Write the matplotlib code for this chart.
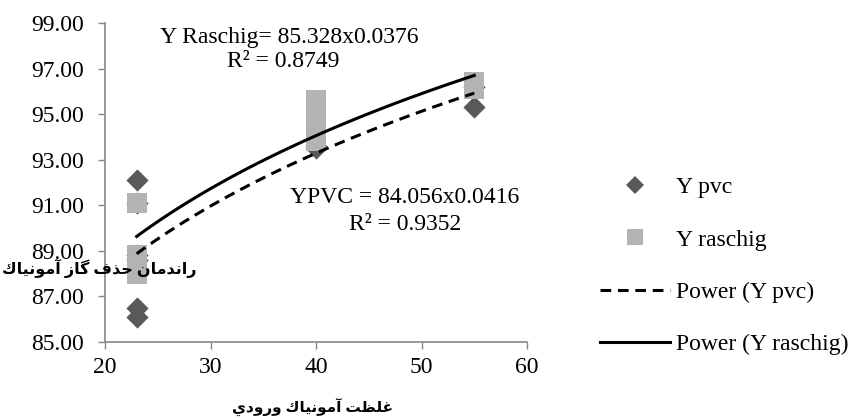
import numpy as np
import matplotlib
matplotlib.use("Agg")
import matplotlib.pyplot as plt
from matplotlib.lines import Line2D

plt.rcParams['font.family'] = ['Liberation Serif', 'DejaVu Sans']

# data
x_pvc = [23, 23, 23, 23, 23, 23, 40, 40, 55, 55]
y_pvc = [92.1, 91.1, 88.8, 88.6, 86.5, 86.1, 93.5, 93.6, 95.3, 96.2]
x_ras = [23, 23, 23, 23, 23, 40, 40, 40, 40, 40, 55, 55, 55]
y_ras = [91.1, 91.1, 88.8, 88.4, 88.0, 95.6, 95.0, 94.4, 93.8, 93.8,
         96.4, 96.1, 96.1]

eq_ras = ["Y Raschig= 85.328x0.0376", "R² = 0.8749"]
eq_pvc = ["YPVC = 84.056x0.0416", "R² = 0.9352"]
x_title = "غلظت آمونياك ورودي"
y_title = "راندمان حذف گاز آمونياك"

# presentation forms: isolated, final, initial, medial
FORMS = {
    'ا': ('\uFE8D', '\uFE8E', None, None),
    'آ': ('\uFE81', '\uFE82', None, None),
    'ت': ('\uFE95', '\uFE96', '\uFE97', '\uFE98'),
    'ح': ('\uFEA1', '\uFEA2', '\uFEA3', '\uFEA4'),
    'د': ('\uFEA9', '\uFEAA', None, None),
    'ذ': ('\uFEAB', '\uFEAC', None, None),
    'ر': ('\uFEAD', '\uFEAE', None, None),
    'ز': ('\uFEAF', '\uFEB0', None, None),
    'ظ': ('\uFEC5', '\uFEC6', '\uFEC7', '\uFEC8'),
    'غ': ('\uFECD', '\uFECE', '\uFECF', '\uFED0'),
    'ف': ('\uFED1', '\uFED2', '\uFED3', '\uFED4'),
    'ك': ('\uFED9', '\uFEDA', '\uFEDB', '\uFEDC'),
    'ل': ('\uFEDD', '\uFEDE', '\uFEDF', '\uFEE0'),
    'م': ('\uFEE1', '\uFEE2', '\uFEE3', '\uFEE4'),
    'ن': ('\uFEE5', '\uFEE6', '\uFEE7', '\uFEE8'),
    'و': ('\uFEED', '\uFEEE', None, None),
    'ي': ('\uFEF1', '\uFEF2', '\uFEF3', '\uFEF4'),
    'گ': ('\uFB92', '\uFB93', '\uFB94', '\uFB95'),
}


def shape(text):
    # join arabic letters and reverse for left-to-right drawing
    out = []
    for word in text.split(' '):
        chars = []
        for i, c in enumerate(word):
            prev = word[i - 1] if i > 0 else None
            nxt = word[i + 1] if i < len(word) - 1 else None
            join_prev = prev is not None and FORMS[prev][2] is not None
            join_next = nxt is not None and FORMS[c][2] is not None
            iso, fin, ini, med = FORMS[c]
            if join_prev and join_next:
                chars.append(med)
            elif join_prev:
                chars.append(fin)
            elif join_next:
                chars.append(ini)
            else:
                chars.append(iso)
        out.append(''.join(chars))
    return ' '.join(out)[::-1]


def power_fit(x, y):
    b, ln_a = np.polyfit(np.log(x), np.log(y), 1)
    return np.exp(ln_a), b


fig = plt.figure(figsize=(8.51, 4.19), dpi=100)
ax = fig.add_axes([0.1234, 0.184, 0.4959, 0.761])

ax.scatter(x_pvc, y_pvc, marker='D', s=128, color='#595959', zorder=3,
           linewidths=0)
ax.scatter(x_ras, y_ras, marker='s', s=228, color='#b3b3b3', zorder=3,
           linewidths=0)

xs = np.linspace(min(x_pvc), max(x_pvc), 100)
a, b = power_fit(x_pvc, y_pvc)
ax.plot(xs, a * xs ** b, color='black', lw=2.2, ls=(0, (3.5, 2.2)), zorder=4)
a, b = power_fit(x_ras, y_ras)
ax.plot(xs, a * xs ** b, color='black', lw=2.2, zorder=4)

ax.set_xlim(20, 60)
ax.set_ylim(85, 99)
ax.set_xticks([20, 30, 40, 50, 60])
ax.set_yticks(np.arange(85, 100, 2))
ax.set_yticklabels([f"{v:.2f}" for v in np.arange(85, 100, 2)])
ax.tick_params(labelsize=17, color='#868686', length=5, width=1,
               direction='out')
ax.tick_params(axis='x', pad=6)
ax.tick_params(axis='y', pad=10)
for s in ['top', 'right']:
    ax.spines[s].set_visible(False)
for s in ['left', 'bottom']:
    ax.spines[s].set_color('#868686')
    ax.spines[s].set_linewidth(1.2)

ax.text(37.5, 98.12, eq_ras[0], fontsize=17, ha='center', va='baseline')
ax.text(36.9, 97.07, eq_ras[1], fontsize=17, ha='center', va='baseline')
ax.text(48.44, 91.09, eq_pvc[0], fontsize=17, ha='center', va='baseline')
ax.text(48.4, 89.9, eq_pvc[1], fontsize=17, ha='center', va='baseline')

fig.text(313 / 851, 1 - 408 / 419, shape(x_title), fontsize=11,
         ha='center', va='center', fontweight='bold')
fig.text(99 / 851, 1 - 268 / 419, shape(y_title), fontsize=11.5,
         ha='center', va='center', fontweight='bold')

handles = [
    Line2D([], [], marker='D', ls='none', color='#595959', markersize=9.3,
           markeredgewidth=0),
    Line2D([], [], marker='s', ls='none', color='#b3b3b3', markersize=11,
           markeredgewidth=0),
    Line2D([], [], color='black', lw=2.2, ls=(0, (3.5, 2.2))),
    Line2D([], [], color='black', lw=2.2),
]
labels = ["Y pvc", "Y raschig", "Power (Y pvc)", "Power (Y raschig)"]
fig.legend(handles, labels, loc='center left',
           bbox_to_anchor=(579 / 851, 1 - 266 / 419), frameon=False,
           fontsize=17, handlelength=2.95, handletextpad=0.25,
           labelspacing=1.31)

fig.savefig("out.png", dpi=100)
